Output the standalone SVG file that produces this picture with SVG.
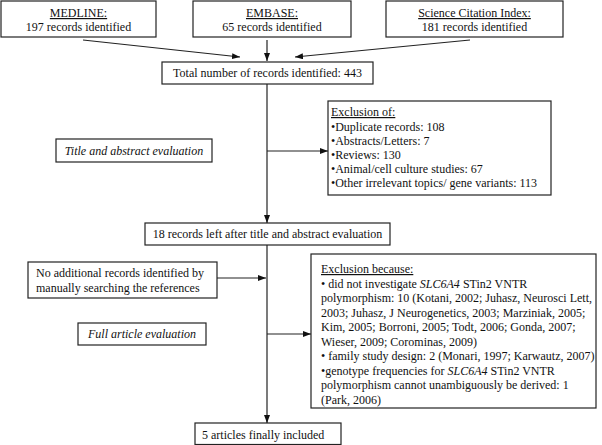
<svg xmlns="http://www.w3.org/2000/svg" width="602" height="445" viewBox="0 0 602 445">
<defs>
<style>
.box{fill:#fff;stroke:#222;stroke-width:1.2}
text{font-family:"Liberation Serif","Times New Roman",serif;font-size:12px;fill:#111}
.c{text-anchor:middle}
.u{text-decoration:underline}
.i{font-style:italic}
.ln{stroke:#222;stroke-width:1.2;fill:none;marker-end:url(#ah)}
</style>
<marker id="ah" viewBox="0 0 8 6" refX="8" refY="3" markerWidth="8" markerHeight="6" markerUnits="userSpaceOnUse" orient="auto">
<path d="M0,0 L8,3 L0,6 z" fill="#111"/>
</marker>
</defs>
<rect width="602" height="445" fill="#fff"/>
<g id="connectors">
<line class="ln" x1="83" y1="40" x2="240" y2="57"/>
<line class="ln" x1="267" y1="40" x2="267" y2="61"/>
<line class="ln" x1="470" y1="40" x2="295" y2="57"/>
<line class="ln" x1="267" y1="84" x2="267" y2="223"/>
<line class="ln" x1="267" y1="151" x2="328" y2="151"/>
<line class="ln" x1="267" y1="245" x2="267" y2="423"/>
<line class="ln" x1="217" y1="278" x2="266" y2="278"/>
<line class="ln" x1="267" y1="334" x2="311" y2="334"/>
</g>
<g id="medline">
<rect class="box" x="1" y="1" width="155" height="36"/>
<text class="c u" x="78.5" y="17">MEDLINE:</text>
<text class="c" x="78.5" y="31">197 records identified</text>
</g>
<g id="embase">
<rect class="box" x="193" y="1" width="158" height="36"/>
<text class="c u" x="272" y="17">EMBASE:</text>
<text class="c" x="272" y="31">65 records identified</text>
</g>
<g id="sci">
<rect class="box" x="386" y="1" width="177" height="36"/>
<text class="c u" x="474.5" y="17">Science Citation Index:</text>
<text class="c" x="474.5" y="31">181 records identified</text>
</g>
<g id="total">
<rect class="box" x="162" y="62" width="211" height="22"/>
<text class="c" x="267.5" y="77">Total number of records identified: 443</text>
</g>
<g id="title-eval">
<rect class="box" x="56" y="139" width="156" height="23"/>
<text class="c i" x="134" y="155">Title and abstract evaluation</text>
</g>
<g id="exclusion-of">
<rect class="box" x="328" y="101" width="223" height="94"/>
<text x="331" y="116" class="u">Exclusion of:</text>
<text x="331" y="130.5">•Duplicate records: 108</text>
<text x="331" y="144.5">•Abstracts/Letters: 7</text>
<text x="331" y="158.5">•Reviews: 130</text>
<text x="331" y="172.5">•Animal/cell culture studies: 67</text>
<text x="331" y="187">•Other irrelevant topics/ gene variants: 113</text>
</g>
<g id="records18">
<rect class="box" x="145" y="223" width="245" height="22"/>
<text class="c" x="267.5" y="238">18 records left after title and abstract evaluation</text>
</g>
<g id="no-additional">
<rect class="box" x="28" y="262" width="189" height="36"/>
<text x="36" y="277">No additional records identified by</text>
<text x="36" y="291.5">manually searching the references</text>
</g>
<g id="full-eval">
<rect class="box" x="78" y="323" width="128" height="22"/>
<text class="c i" x="142" y="338">Full article evaluation</text>
</g>
<g id="exclusion-because">
<rect class="box" x="311" y="254" width="285" height="154"/>
<text x="321" y="273" class="u">Exclusion because:</text>
<text x="321" y="287.5">• did not investigate <tspan class="i">SLC6A4</tspan> STin2 VNTR</text>
<text x="321" y="302">polymorphism: 10 (Kotani, 2002; Juhasz, Neurosci Lett,</text>
<text x="321" y="316.5">2003; Juhasz, J Neurogenetics, 2003; Marziniak, 2005;</text>
<text x="321" y="331">Kim, 2005; Borroni, 2005; Todt, 2006; Gonda, 2007;</text>
<text x="321" y="345.5">Wieser, 2009; Corominas, 2009)</text>
<text x="321" y="360">• family study design: 2 (Monari, 1997; Karwautz, 2007)</text>
<text x="321" y="374.5">•genotype frequencies for <tspan class="i">SLC6A4</tspan> STin2 VNTR</text>
<text x="321" y="389">polymorphism cannot unambiguously be derived: 1</text>
<text x="321" y="403.5">(Park, 2006)</text>
</g>
<g id="final">
<rect class="box" x="195" y="423" width="146" height="21.5"/>
<text x="202" y="439">5 articles finally included</text>
</g>
</svg>
